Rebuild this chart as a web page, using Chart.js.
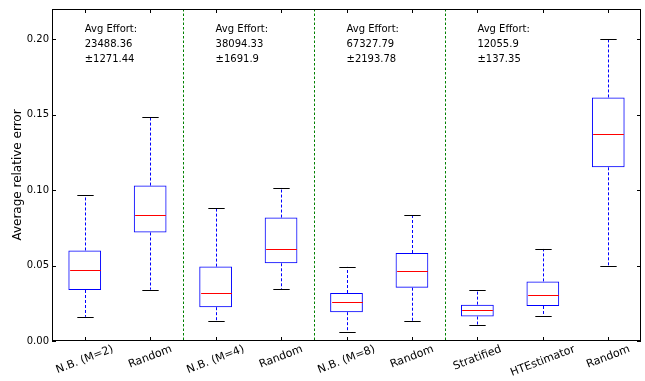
<!DOCTYPE html>
<html>
<head>
<meta charset="utf-8">
<script src="https://cdn.jsdelivr.net/npm/chart.js@4/dist/chart.umd.min.js"></script>
<style>
  html, body { margin: 0; padding: 0; background: #fff; }
  #wrap { width: 645px; height: 381px; }
</style>
</head>
<body>
<div id="wrap"><canvas id="chart" width="645" height="381"></canvas></div>
<script>
// categories and box statistics
const labels = ['N.B. (M=2)', 'Random', 'N.B. (M=4)', 'Random', 'N.B. (M=8)', 'Random', 'Stratified', 'HTEstimator', 'Random'];
const whiskerLow = [0.016, 0.034, 0.013, 0.0342, 0.0057, 0.0132, 0.0105, 0.0167, 0.050];
const q1 = [0.0338, 0.0719, 0.0224, 0.0515, 0.0191, 0.0353, 0.0162, 0.0232, 0.1151];
const median = [0.0472, 0.0835, 0.0318, 0.0610, 0.0259, 0.0467, 0.0206, 0.0307, 0.1373];
const q3 = [0.0600, 0.1030, 0.0493, 0.0818, 0.0318, 0.0583, 0.0241, 0.0395, 0.1614];
const whiskerHigh = [0.0967, 0.1485, 0.0880, 0.1017, 0.0491, 0.0833, 0.0336, 0.0610, 0.2000];
const yTicks = [0, 0.05, 0.10, 0.15, 0.20];

// group annotations
const effortAt = [0, 2, 4, 6];             // category index the text starts at
const effortMean = [23488.36, 38094.33, 67327.79, 12055.9];
const effortStd = [1271.44, 1691.9, 2193.78, 137.35];
const separators = [1.5, 3.5, 5.5];        // between categories

const ANNOT_Y = 0.205;

Chart.defaults.font.family = '"DejaVu Sans", sans-serif';
Chart.defaults.font.size = 10;
Chart.defaults.color = '#000';

const boxExtras = {
  id: 'boxExtras',
  afterDatasetsDraw(chart) {
    const { ctx, chartArea: a, scales: { x, y } } = chart;
    const step = x.getPixelForValue(1) - x.getPixelForValue(0);
    ctx.save();

    // group separators
    ctx.strokeStyle = '#008000';
    ctx.lineWidth = 1;
    ctx.setLineDash([2.5, 2]);
    separators.forEach(s => {
      const px = Math.round(x.getPixelForValue(0) + s * step) + 0.5;
      ctx.beginPath();
      ctx.moveTo(px, a.top);
      ctx.lineTo(px, a.bottom);
      ctx.stroke();
    });

    labels.forEach((_, i) => {
      const cx = Math.round(x.getPixelForValue(i)) + 0.5;
      const capHalf = step * 0.125;
      // whiskers
      ctx.strokeStyle = '#0000ff';
      ctx.setLineDash([3, 2]);
      ctx.beginPath();
      ctx.moveTo(cx, y.getPixelForValue(q3[i]));
      ctx.lineTo(cx, y.getPixelForValue(whiskerHigh[i]));
      ctx.moveTo(cx, y.getPixelForValue(q1[i]));
      ctx.lineTo(cx, y.getPixelForValue(whiskerLow[i]));
      ctx.stroke();
      // caps
      ctx.setLineDash([]);
      ctx.strokeStyle = '#000';
      ctx.beginPath();
      [whiskerHigh[i], whiskerLow[i]].forEach(v => {
        const py = Math.round(y.getPixelForValue(v)) + 0.5;
        ctx.moveTo(cx - capHalf, py);
        ctx.lineTo(cx + capHalf, py);
      });
      ctx.stroke();
      // median
      ctx.strokeStyle = '#ff0000';
      const my = Math.round(y.getPixelForValue(median[i])) + 0.5;
      ctx.beginPath();
      ctx.moveTo(cx - step * 0.25 + 1, my);
      ctx.lineTo(cx + step * 0.25 - 1, my);
      ctx.stroke();
    });

    // frame
    ctx.strokeStyle = '#000';
    ctx.lineWidth = 1;
    ctx.strokeRect(a.left + 0.5, a.top + 0.5, a.right - a.left - 1, a.bottom - a.top - 1);

    // inner tick marks
    ctx.beginPath();
    yTicks.forEach(v => {
      const py = Math.round(y.getPixelForValue(v)) + 0.5;
      ctx.moveTo(a.left, py); ctx.lineTo(a.left + 4, py);
      ctx.moveTo(a.right, py); ctx.lineTo(a.right - 4, py);
    });
    labels.forEach((_, i) => {
      const px = Math.round(x.getPixelForValue(i)) + 0.5;
      ctx.moveTo(px, a.bottom); ctx.lineTo(px, a.bottom - 4);
      ctx.moveTo(px, a.top); ctx.lineTo(px, a.top + 4);
    });
    ctx.stroke();

    // effort annotations
    ctx.fillStyle = '#000';
    ctx.font = '10px "DejaVu Sans"';
    ctx.textAlign = 'left';
    ctx.textBaseline = 'alphabetic';
    effortAt.forEach((ci, k) => {
      const px = x.getPixelForValue(ci);
      const py = y.getPixelForValue(ANNOT_Y);
      ctx.fillText('Avg Effort:', px, py);
      ctx.fillText(String(effortMean[k]), px, py + 15.3);
      ctx.fillText('\u00b1' + effortStd[k], px, py + 30.6);
    });

    // rotated category labels
    const rot = 21 * Math.PI / 180;
    ctx.font = '11px "DejaVu Sans"';
    ctx.textAlign = 'center';
    ctx.textBaseline = 'middle';
    labels.forEach((t, i) => {
      const w = ctx.measureText(t).width;
      const bh = w * Math.sin(rot) + 12.5 * Math.cos(rot);
      const px = x.getPixelForValue(i);
      const py = a.bottom + 2 + bh / 2;
      ctx.save();
      ctx.translate(px, py);
      ctx.rotate(-rot);
      ctx.fillText(t, 0, 0);
      ctx.restore();
    });

    ctx.restore();
  }
};

new Chart(document.getElementById('chart'), {
  type: 'bar',
  data: {
    labels: labels,
    datasets: [{
      data: labels.map((_, i) => [q1[i], q3[i]]),
      backgroundColor: 'rgba(0,0,0,0)',
      borderColor: '#0000ff',
      borderWidth: 1,
      borderSkipped: false,
      barPercentage: 0.5,
      categoryPercentage: 1.0
    }]
  },
  options: {
    responsive: false,
    animation: false,
    layout: { padding: { top: 6, right: 4, left: 0, bottom: 0 } },
    plugins: { legend: { display: false }, tooltip: { enabled: false } },
    scales: {
      x: {
        offset: true,
        grid: { display: false },
        border: { display: false },
        ticks: { display: false },
        afterFit(s) { s.height = 40; }
      },
      y: {
        min: 0,
        max: 0.22,
        grid: { display: false, drawTicks: false },
        border: { display: false },
        ticks: {
          stepSize: 0.05,
          includeBounds: false,
          padding: 3,
          callback: v => v.toFixed(2)
        },
        title: {
          display: true,
          text: 'Average relative error',
          font: { size: 12 },
          padding: { top: 11, bottom: 0 }
        },
        afterFit(s) { s.width = 52; }
      }
    }
  },
  plugins: [boxExtras]
});
</script>
</body>
</html>
